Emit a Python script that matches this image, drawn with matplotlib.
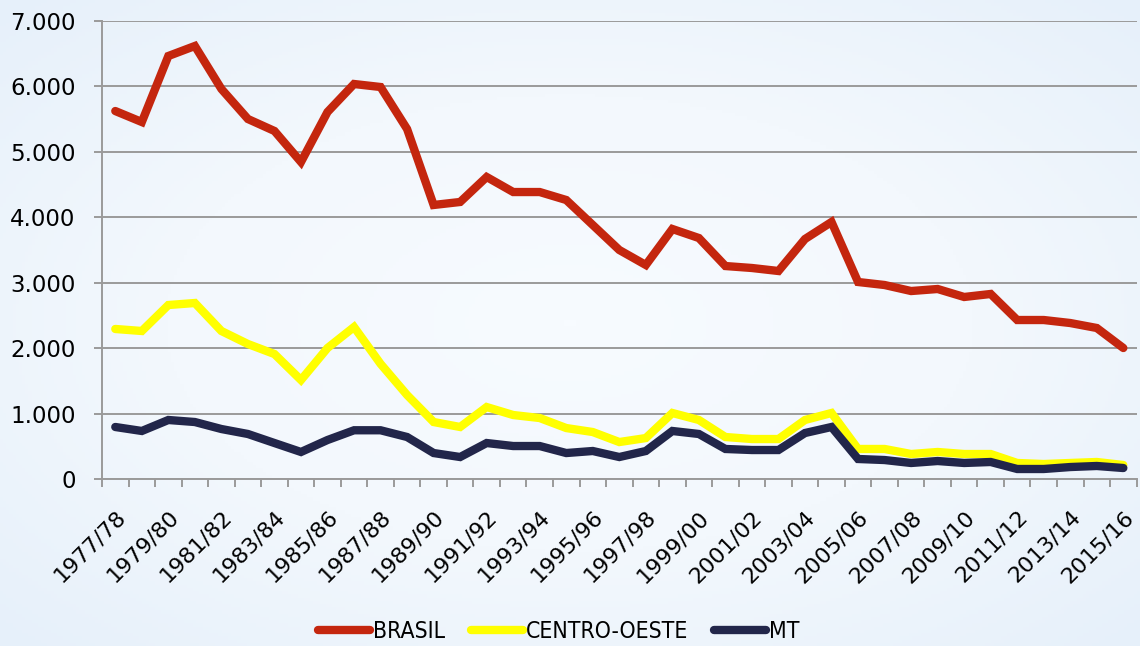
import numpy as np
import matplotlib
matplotlib.use("Agg")
from matplotlib import pyplot as plt
from matplotlib.ticker import FuncFormatter, FixedLocator

# safras 1977/78 .. 2015/16
safras = ["%d/%02d" % (y, (y + 1) % 100) for y in range(1977, 2016)]

brasil = [5624, 5456, 6465, 6618, 5961, 5502, 5319, 4845, 5609, 6037,
          5991, 5349, 4188, 4234, 4616, 4386, 4386, 4264, 3882, 3500,
          3271, 3821, 3683, 3255, 3225, 3179, 3668, 3928, 3011, 2965,
          2873, 2904, 2782, 2828, 2430, 2430, 2384, 2308, 2002]

centro_oeste = [2293, 2262, 2659, 2690, 2262, 2063, 1910, 1513, 2002, 2323,
                1760, 1284, 871, 795, 1100, 978, 932, 779, 718, 565,
                626, 1009, 902, 642, 611, 611, 902, 1009, 459, 459,
                382, 413, 382, 382, 245, 229, 245, 260, 214]

mt = [795, 734, 902, 871, 764, 688, 550, 413, 596, 745,
      745, 642, 397, 336, 550, 504, 504, 397, 428, 336,
      428, 734, 688, 459, 443, 443, 703, 795, 306, 290,
      245, 275, 245, 260, 153, 153, 183, 199, 168]

series = [("BRASIL", brasil, "#c4260e"),
          ("CENTRO-OESTE", centro_oeste, "#ffff00"),
          ("MT", mt, "#22264a")]

fig = plt.figure(figsize=(11.4, 6.46), dpi=100)

# light bluish background with a whiter centre
bg = fig.add_axes([0, 0, 1, 1], zorder=-10)
yy, xx = np.mgrid[-1:1:200j, -1:1:360j]
r = np.sqrt(xx ** 2 + yy ** 2)
bg.imshow(r, cmap=matplotlib.colors.LinearSegmentedColormap.from_list(
    "bg", ["#f7fbff", "#f3f8fd", "#e6f0fa"]), aspect="auto", extent=[0, 1, 0, 1])
bg.axis("off")

ax = fig.add_axes([0.0895, 0.2585, 0.9075, 0.709])
ax.patch.set_alpha(0)

x = np.arange(len(safras))
for name, vals, col in series:
    ax.plot(x, vals, color=col, lw=6, solid_joinstyle="miter",
            solid_capstyle="round", label=name)

ax.set_xlim(-0.5, len(safras) - 0.5)
ax.set_ylim(0, 7000)
ax.set_yticks(range(0, 7001, 1000))
ax.yaxis.set_major_formatter(FuncFormatter(
    lambda v, p: "0" if v == 0 else "{:,.0f}".format(v).replace(",", ".")))
ax.grid(axis="y", color="#9a9a9a", lw=1.4)
ax.set_axisbelow(True)

# tick marks at category boundaries, labels at every other category
ax.xaxis.set_minor_locator(FixedLocator(np.arange(-0.5, len(safras), 1.0)))
ax.set_xticks(x[::2])
ax.set_xticklabels(safras[::2], rotation=45, ha="right", va="top",
                   rotation_mode="anchor")
ax.tick_params(axis="x", which="major", length=0, labelsize=16, pad=20)
ax.tick_params(axis="x", which="minor", length=6, color="#9a9a9a", width=1.4)
ax.tick_params(axis="y", length=6, color="#9a9a9a", width=1.4, labelsize=16.5,
               pad=13)

for s in ["top", "right"]:
    ax.spines[s].set_visible(False)
for s in ["left", "bottom"]:
    ax.spines[s].set_color("#9a9a9a")
    ax.spines[s].set_linewidth(1.4)

leg = fig.legend(loc="center", bbox_to_anchor=(0.490, 0.0217), ncol=3,
                 frameon=False, handlelength=2.27, columnspacing=1.13,
                 handletextpad=0.13,
                 prop={"family": ["Liberation Sans Narrow", "DejaVu Sans"],
                       "size": 16.5, "stretch": "condensed"})
for h in leg.legend_handles:
    h.set_linewidth(6)

fig.savefig("out.png", dpi=100)
